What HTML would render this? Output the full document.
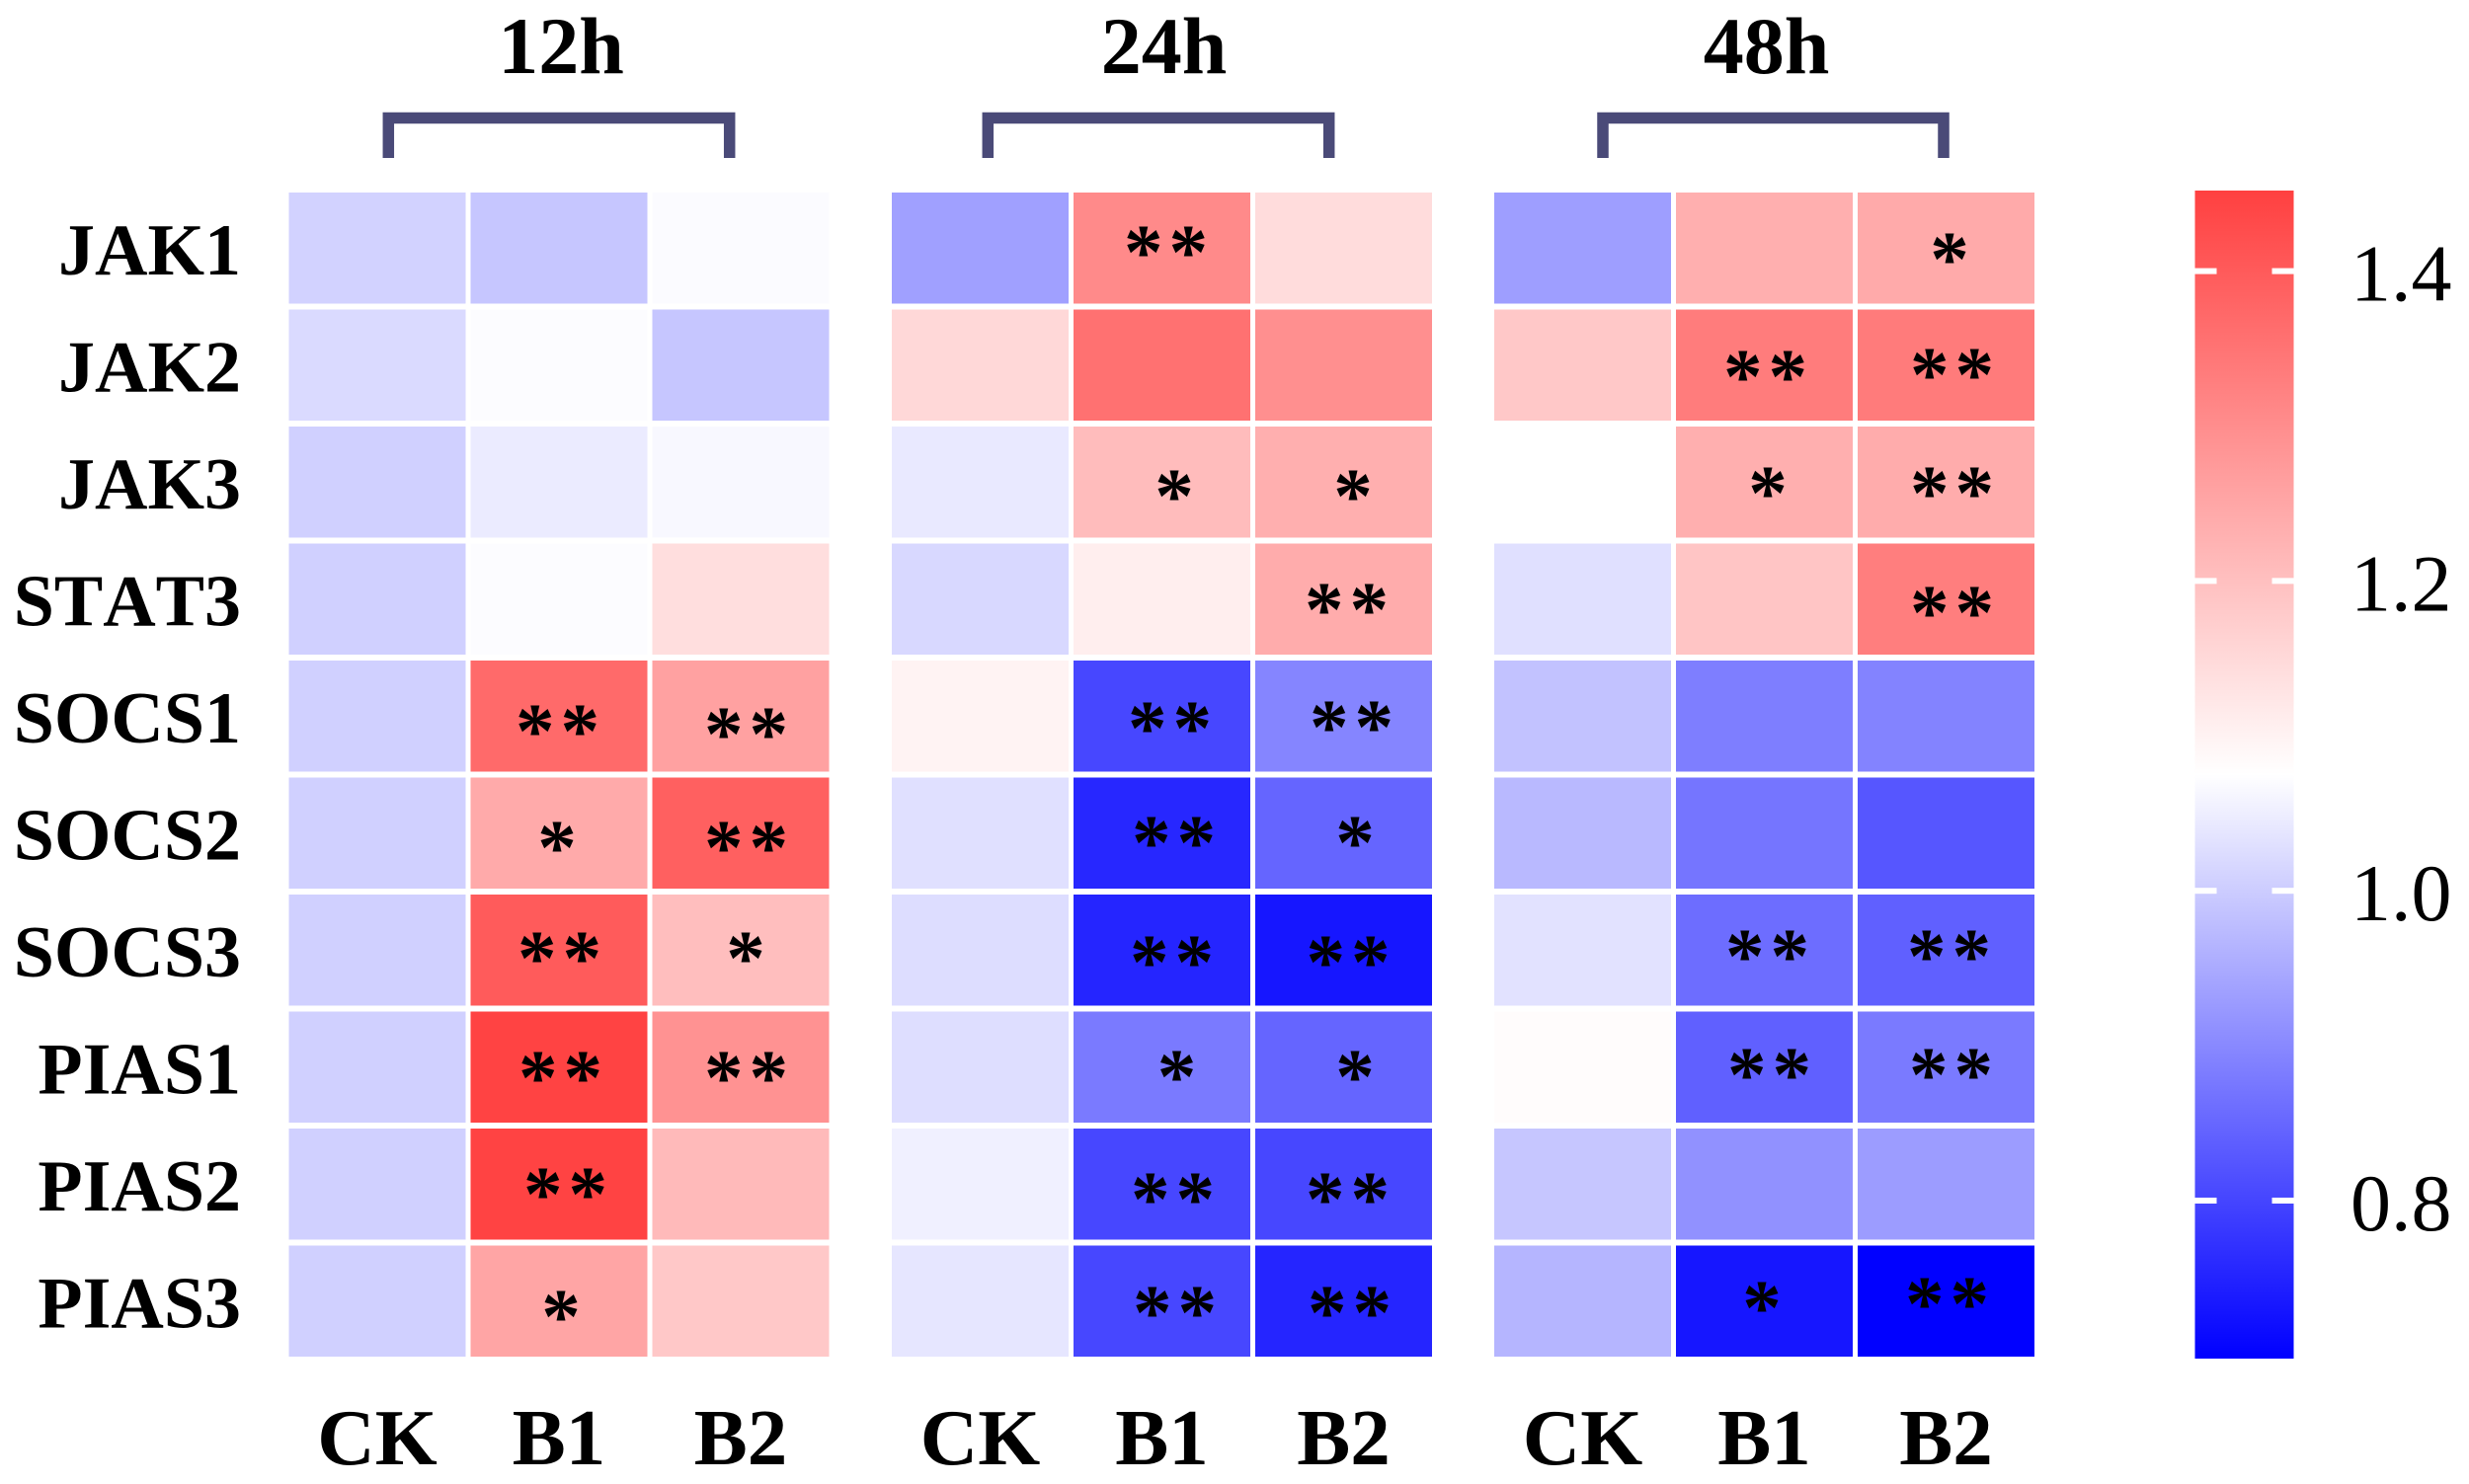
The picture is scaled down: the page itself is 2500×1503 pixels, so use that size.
<!DOCTYPE html>
<html lang="en">
<head>
<meta charset="utf-8">
<title>Gene expression heatmap</title>
<style>
html,body{margin:0;padding:0;background:#fff;}
svg{display:block;}
text{font-family:"Liberation Serif","DejaVu Serif",serif;fill:#000;font-kerning:none;}
.row-label{font-size:74px;font-weight:bold;text-anchor:end;}
.col-label{font-size:81px;font-weight:bold;text-anchor:middle;}
.title{font-size:82px;font-weight:bold;text-anchor:middle;}
.tick-label{font-size:82px;}
.star{font-size:79px;font-weight:bold;text-anchor:middle;}
.star2{font-size:79px;font-weight:bold;text-anchor:middle;letter-spacing:6px;}
.bracket{fill:none;stroke:#4a4a78;stroke-width:11.5;stroke-linejoin:miter;}
</style>
</head>
<body>
<svg id="chart" xmlns="http://www.w3.org/2000/svg" width="2500" height="1503" viewBox="0 0 2500 1503">
  <rect x="0" y="0" width="2500" height="1503" fill="#ffffff"/>
  <defs>
    <linearGradient id="colorbar-gradient" x1="0" y1="0" x2="0" y2="1"></linearGradient>
  </defs>

  <path class="bracket" d="M393.3 160 V119.5 H738.7 V160"/>
  <path class="bracket" d="M1000.3 160 V119.5 H1345.7 V160"/>
  <path class="bracket" d="M1623 160 V119.5 H1968 V160"/>

  <g id="cells"></g>
  <g id="labels"></g>

  <g id="significance" transform="translate(-2 1)">
    <text class="star2" x="569.5" y="766">**</text>
    <text class="star2" x="760.5" y="769">**</text>
    <text class="star" x="566" y="884">*</text>
    <text class="star2" x="760.5" y="884">**</text>
    <text class="star2" x="571.5" y="996">**</text>
    <text class="star" x="757" y="996">*</text>
    <text class="star2" x="572.5" y="1117">**</text>
    <text class="star2" x="760.5" y="1117">**</text>
    <text class="star2" x="577.5" y="1235">**</text>
    <text class="star" x="570" y="1359">*</text>

    <text class="star2" x="1185.5" y="281">**</text>
    <text class="star" x="1191" y="528">*</text>
    <text class="star" x="1372" y="528">*</text>
    <text class="star2" x="1368.5" y="643">**</text>
    <text class="star2" x="1189.5" y="763">**</text>
    <text class="star2" x="1373.5" y="762">**</text>
    <text class="star2" x="1193.5" y="879">**</text>
    <text class="star" x="1374" y="879">*</text>
    <text class="star2" x="1191.5" y="1000">**</text>
    <text class="star2" x="1370" y="1000">**</text>
    <text class="star" x="1193.5" y="1116">*</text>
    <text class="star" x="1374" y="1116">*</text>
    <text class="star2" x="1192.5" y="1240">**</text>
    <text class="star2" x="1369.5" y="1240">**</text>
    <text class="star2" x="1194.5" y="1355">**</text>
    <text class="star2" x="1371.5" y="1355">**</text>

    <text class="star" x="1976" y="288">*</text>
    <text class="star2" x="1792.5" y="407">**</text>
    <text class="star2" x="1981.5" y="405">**</text>
    <text class="star" x="1792" y="525">*</text>
    <text class="star2" x="1981.5" y="525">**</text>
    <text class="star2" x="1981.5" y="646">**</text>
    <text class="star2" x="1794.5" y="994">**</text>
    <text class="star2" x="1978.5" y="994">**</text>
    <text class="star2" x="1796.5" y="1114">**</text>
    <text class="star2" x="1980.5" y="1114">**</text>
    <text class="star" x="1786" y="1350">*</text>
    <text class="star2" x="1976.5" y="1346">**</text>
  </g>

  <rect id="colorbar" x="2222.5" y="193" width="100" height="1183" fill="url(#colorbar-gradient)"/>
  <g id="colorbar-ticks"></g>
</svg>

<script>
const rowLabels = ["JAK1","JAK2","JAK3","STAT3","SOCS1","SOCS2","SOCS3","PIAS1","PIAS2","PIAS3"];
const columnLabels = ["CK","B1","B2"];
const groupLabels = ["12h","24h","48h"];
const values12h = [
  [1.009,0.991,1.069],
  [1.021,1.071,0.991],
  [1.006,1.046,1.065],
  [1.006,1.071,1.140],
  [1.006,1.369,1.261],
  [1.006,1.242,1.389],
  [1.006,1.399,1.203],
  [1.006,1.446,1.291],
  [1.006,1.446,1.212],
  [1.006,1.252,1.183]
];
const values24h = [
  [0.935,1.305,1.144],
  [1.152,1.356,1.297],
  [1.043,1.207,1.232],
  [1.018,1.108,1.238],
  [1.099,0.803,0.894],
  [1.029,0.756,0.847],
  [1.024,0.753,0.730],
  [1.026,0.879,0.847],
  [1.053,0.803,0.803],
  [1.038,0.803,0.752]
];
const values48h = [
  [0.932,1.232,1.242],
  [1.183,1.334,1.336],
  [1.075,1.232,1.238],
  [1.029,1.189,1.330],
  [0.985,0.884,0.891],
  [0.971,0.871,0.825],
  [1.032,0.859,0.840],
  [1.081,0.840,0.879],
  [0.991,0.913,0.928],
  [0.965,0.730,0.700]
];
const colorbarTicks = [1.4,1.2,1.0,0.8];
const colorDomain = [0.698,1.075,1.452];

const SVG_NS = "http://www.w3.org/2000/svg";
const groupValues = [values12h, values24h, values48h];

/* layout */
const GROUP_LEFT = [292.5, 903, 1513];
const COL_PITCH = 184, CELL_W = 179;
const ROW_TOP = 195, ROW_PITCH = 118.5, CELL_H = 112.5;
const CB_X = 2222.5, CB_W = 100, CB_TOP = 193, CB_BOTTOM = 1376;
const CB_TICK_LEN = 22, CB_TICK_H = 6;

/* axis functions */
function xCell(group, col){ return GROUP_LEFT[group] + col * COL_PITCH; }
function yCell(row){ return ROW_TOP + row * ROW_PITCH; }
function yColorbar(v){
  return CB_BOTTOM - (v - colorDomain[0]) / (colorDomain[2] - colorDomain[0]) * (CB_BOTTOM - CB_TOP);
}
function colorFor(v){
  const lo = colorDomain[0], mid = colorDomain[1], hi = colorDomain[2];
  if (v <= mid){
    const t = Math.min(1, (mid - v) / (mid - lo));
    const c = Math.round(255 * (1 - t));
    return "rgb(" + c + "," + c + ",255)";
  }
  const t = Math.min(1, (v - mid) / (hi - mid));
  const c = Math.round(255 - 191 * t);
  return "rgb(255," + c + "," + c + ")";
}
function slug(s){ return String(s).toLowerCase().replace(/[^a-z0-9]+/g, "-"); }
function make(tag){ return document.createElementNS(SVG_NS, tag); }

const cellsLayer = document.getElementById("cells");
groupValues.forEach(function(matrix, g){
  matrix.forEach(function(row, r){
    row.forEach(function(v, c){
      const el = make("rect");
      el.setAttribute("x", xCell(g, c));
      el.setAttribute("y", yCell(r));
      el.setAttribute("width", CELL_W);
      el.setAttribute("height", CELL_H);
      el.setAttribute("fill", colorFor(v));
      
      
      cellsLayer.appendChild(el);
    });
  });
});

const labelsLayer = document.getElementById("labels");
rowLabels.forEach(function(name, r){
  const el = make("text");
  el.setAttribute("class", "row-label");
  el.setAttribute("x", 244);
  el.setAttribute("y", yCell(r) + CELL_H / 2 + 26.5);
  el.textContent = name;
  
  
  labelsLayer.appendChild(el);
});
groupLabels.forEach(function(name, g){
  const title = make("text");
  title.setAttribute("class", "title");
  title.setAttribute("x", xCell(g, 1) + CELL_W / 2 + 2);
  title.setAttribute("y", 74);
  title.textContent = name;
  
  
  labelsLayer.appendChild(title);
  columnLabels.forEach(function(col, c){
    const el = make("text");
    el.setAttribute("class", "col-label");
    el.setAttribute("x", xCell(g, c) + CELL_W / 2);
    el.setAttribute("y", 1483);
    el.textContent = col;
    
    
    labelsLayer.appendChild(el);
  });
});

const gradient = document.getElementById("colorbar-gradient");
[colorDomain[2], colorDomain[1], colorDomain[0]].forEach(function(v){
  const stop = make("stop");
  stop.setAttribute("offset", (yColorbar(v) - CB_TOP) / (CB_BOTTOM - CB_TOP));
  stop.setAttribute("stop-color", colorFor(v));
  gradient.appendChild(stop);
});

const ticksLayer = document.getElementById("colorbar-ticks");
colorbarTicks.forEach(function(v){
  const y = yColorbar(v);
  const left = make("rect");
  left.setAttribute("x", CB_X);
  left.setAttribute("y", y - CB_TICK_H / 2);
  left.setAttribute("width", CB_TICK_LEN);
  left.setAttribute("height", CB_TICK_H);
  left.setAttribute("fill", "#ffffff");
  
  
  ticksLayer.appendChild(left);
  const right = make("rect");
  right.setAttribute("x", CB_X + CB_W - CB_TICK_LEN);
  right.setAttribute("y", y - CB_TICK_H / 2);
  right.setAttribute("width", CB_TICK_LEN);
  right.setAttribute("height", CB_TICK_H);
  right.setAttribute("fill", "#ffffff");
  
  
  ticksLayer.appendChild(right);
  const label = make("text");
  label.setAttribute("class", "tick-label");
  label.setAttribute("x", 2380);
  label.setAttribute("y", y + 30);
  label.textContent = v.toFixed(1);
  
  
  ticksLayer.appendChild(label);
});
</script>
</body>
</html>
